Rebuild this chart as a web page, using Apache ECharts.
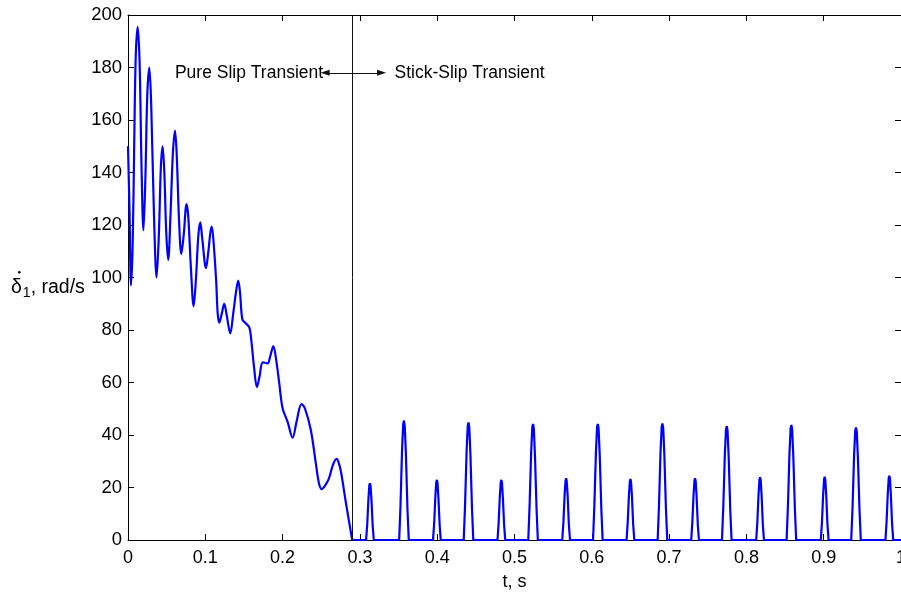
<!DOCTYPE html>
<html>
<head>
<meta charset="utf-8">
<title>Stick-slip transient</title>
<script src="https://cdn.jsdelivr.net/npm/echarts@6/dist/echarts.min.js"></script>
<style>
  html, body { margin: 0; padding: 0; background: #fff; }
  #main { width: 901px; height: 595px; }
</style>
</head>
<body>
<div id="main"></div>
<script>
// delta_1 dot (rad/s) against t (s)
var pureSlip = [
  [0, 150], [0.002, 125], [0.0039, 97], [0.006, 112], [0.008, 150], [0.010, 184], [0.0125, 195.5],
  [0.015, 182], [0.0175, 142], [0.020, 118], [0.0225, 138], [0.025, 170], [0.0276, 180],
  [0.030, 166], [0.0335, 125], [0.037, 100], [0.040, 117], [0.0425, 142], [0.0448, 150],
  [0.047, 140], [0.0495, 117], [0.052, 106.7], [0.055, 124], [0.058, 147], [0.0608, 156],
  [0.063, 147], [0.066, 122], [0.069, 109], [0.072, 116], [0.0758, 128], [0.078, 123],
  [0.0815, 103], [0.0849, 89], [0.088, 100], [0.091, 116], [0.0935, 121], [0.096, 115],
  [0.1009, 103.6], [0.104, 110], [0.108, 119.4], [0.110, 116], [0.114, 99], [0.116, 86.4],
  [0.118, 82.8], [0.1215, 86.5], [0.1245, 90], [0.1275, 86], [0.1323, 78.7], [0.136, 86],
  [0.1395, 94], [0.1426, 98.8], [0.145, 94], [0.148, 84], [0.1526, 82.5], [0.1569, 81],
  [0.159, 77.5], [0.163, 66], [0.1668, 58.2], [0.170, 62], [0.1745, 67.7], [0.1805, 67.3],
  [0.184, 70], [0.188, 73.9], [0.1915, 69], [0.1957, 59.7], [0.2, 50.2], [0.2065, 45],
  [0.213, 39], [0.218, 45], [0.2245, 51.8], [0.229, 50], [0.2365, 41.9], [0.243, 29.2],
  [0.247, 21.6], [0.2504, 19.4], [0.2555, 21], [0.26, 23.5], [0.265, 28.5], [0.2698, 30.9],
  [0.2725, 29.5], [0.2755, 26], [0.282, 14], [0.29, 0]
];

var stickSlip = [
  [0.29, 0],
  [0.308, 0], [0.3095, 6], [0.311, 15.5], [0.3122, 20.8], [0.313, 21.6], [0.3138, 20.6], [0.315, 15], [0.3165, 5.5], [0.318, 0],
  [0.3508, 0], [0.3525, 13], [0.3545, 34], [0.356, 44], [0.357, 45.5], [0.358, 43.5], [0.3595, 33], [0.3615, 12], [0.3632, 0],
  [0.3946, 0], [0.3961, 6.5], [0.3976, 16.5], [0.3988, 22], [0.3996, 22.9], [0.4004, 21.8], [0.4016, 16], [0.4031, 6], [0.4046, 0],
  [0.4343, 0], [0.436, 13], [0.438, 33.5], [0.4395, 43.5], [0.4405, 44.8], [0.4415, 43], [0.443, 32.5], [0.445, 12], [0.4467, 0],
  [0.478, 0], [0.4795, 6.5], [0.481, 16.5], [0.4822, 22], [0.483, 22.9], [0.4838, 21.8], [0.485, 16], [0.4865, 6], [0.488, 0],
  [0.5178, 0], [0.5195, 13], [0.5215, 33], [0.523, 43], [0.524, 44.2], [0.525, 42.5], [0.5265, 32], [0.5285, 12], [0.5302, 0],
  [0.5618, 0], [0.5633, 7], [0.5648, 17], [0.566, 22.6], [0.5668, 23.5], [0.5676, 22.4], [0.5688, 16.5], [0.5703, 6], [0.5718, 0],
  [0.6016, 0], [0.6033, 13], [0.6053, 33], [0.6068, 43], [0.6078, 44.2], [0.6088, 42.5], [0.6103, 32], [0.6123, 12], [0.614, 0],
  [0.645, 0], [0.6465, 7], [0.648, 16.8], [0.6492, 22.3], [0.65, 23.2], [0.6508, 22.1], [0.652, 16.3], [0.6535, 6], [0.655, 0],
  [0.6852, 0], [0.6869, 13], [0.6889, 33.5], [0.6904, 43.2], [0.6914, 44.4], [0.6924, 42.7], [0.6939, 32], [0.6959, 12], [0.6976, 0],
  [0.7286, 0], [0.7301, 7], [0.7316, 17], [0.7328, 22.6], [0.7336, 23.5], [0.7344, 22.4], [0.7356, 16.5], [0.7371, 6], [0.7386, 0],
  [0.7684, 0], [0.7701, 12.5], [0.7721, 32.5], [0.7736, 42.2], [0.7746, 43.4], [0.7756, 41.7], [0.7771, 31.5], [0.7791, 11.5], [0.7808, 0],
  [0.8127, 0], [0.8142, 7], [0.8157, 17.3], [0.8169, 23], [0.8177, 23.9], [0.8185, 22.8], [0.8197, 16.8], [0.8212, 6.2], [0.8227, 0],
  [0.852, 0], [0.8537, 12.7], [0.8557, 32.8], [0.8572, 42.6], [0.8582, 43.8], [0.8592, 42], [0.8607, 31.8], [0.8627, 11.8], [0.8644, 0],
  [0.8963, 0], [0.8978, 7.2], [0.8993, 17.4], [0.9005, 23.2], [0.9013, 24.1], [0.9021, 23], [0.9033, 17], [0.9048, 6.3], [0.9063, 0],
  [0.9356, 0], [0.9373, 12.4], [0.9393, 32.2], [0.9408, 41.7], [0.9418, 42.9], [0.9428, 41.2], [0.9443, 31], [0.9463, 11.5], [0.948, 0],
  [0.9799, 0], [0.9814, 7.3], [0.9829, 17.7], [0.9841, 23.6], [0.9849, 24.5], [0.9857, 23.4], [0.9869, 17.2], [0.9884, 6.4], [0.9899, 0],
  [1, 0]
];

var dividerT = 0.29;            // end of pure slip
var arrowSpan = [0.255, 0.328]; // double arrow across the divider
var arrowY = 178;
var labelLeft = 'Pure Slip Transient';
var labelRight = 'Stick-Slip Transient';

var font = "'Liberation Sans', Arial, sans-serif";
var chart = echarts.init(document.getElementById('main'), null, { renderer: 'canvas' });

function axisBase(extra) {
  return Object.assign({
    type: 'value',
    gridIndex: 0,
    axisLine: { show: true, onZero: false, lineStyle: { color: '#000', width: 1 } },
    axisTick: { show: true, inside: true, length: 6, lineStyle: { color: '#000' } },
    splitLine: { show: false }
  }, extra);
}

var option = {
  animation: false,
  backgroundColor: '#fff',
  grid: { left: 128, top: 15, width: 773, height: 525, containLabel: false, outerBoundsMode: 'none' },
  xAxis: [
    axisBase({
      min: 0, max: 1, interval: 0.1,
      name: 't, s', nameLocation: 'middle', nameGap: 33,
      nameTextStyle: { color: '#000', fontSize: 18, fontFamily: font },
      axisLabel: { color: '#000', fontSize: 18, fontFamily: font, margin: 9 }
    }),
    axisBase({ position: 'top', min: 0, max: 1, interval: 0.1, axisLabel: { show: false } })
  ],
  yAxis: [
    axisBase({
      min: 0, max: 200, interval: 20,
      axisLabel: { color: '#000', fontSize: 18.5, fontFamily: font, margin: 6 }
    }),
    axisBase({ position: 'right', min: 0, max: 200, interval: 20, axisLabel: { show: false } })
  ],
  series: [
    {
      name: 'pure slip',
      type: 'line',
      data: pureSlip,
      showSymbol: false,
      smooth: 0.35,
      lineStyle: { color: '#0000ff', width: 2.2 },
      z: 3
    },
    {
      name: 'stick slip',
      type: 'line',
      data: stickSlip,
      showSymbol: false,
      lineStyle: { color: '#0000ff', width: 2.2 },
      z: 3,
      markLine: {
        silent: true,
        animation: false,
        label: { show: false },
        data: [
          [{ coord: [dividerT, 0], symbol: 'none' }, { coord: [dividerT, 200], symbol: 'none' }],
          [{ coord: [arrowSpan[0], arrowY], symbol: 'triangle' }, { coord: [arrowSpan[1], arrowY], symbol: 'triangle' }]
        ],
        symbolSize: [6, 9],
        lineStyle: { color: '#111', width: 1, type: 'solid' }
      },
      markPoint: {
        silent: true,
        symbol: 'circle',
        symbolSize: 0,
        label: { color: '#000', fontSize: 17.5, fontFamily: font, distance: 2 },
        data: [
          { coord: [arrowSpan[0], arrowY], label: { position: 'left', formatter: labelLeft } },
          { coord: [arrowSpan[1], arrowY], label: { position: 'right', distance: 13, formatter: labelRight } }
        ]
      }
    }
  ],
  graphic: [
    {
      type: 'text',
      left: 11,
      top: 278,
      z: 50,
      style: {
        text: '{d|δ}{s|1}{t|, rad/s}',
        rich: {
          d: { fontSize: 19.5, fontFamily: font, fill: '#000' },
          s: { fontSize: 14, fontFamily: font, fill: '#000', padding: [10, 0, 0, 1] },
          t: { fontSize: 19.5, fontFamily: font, fill: '#000' }
        }
      }
    },
    // dot over the delta
    { type: 'circle', left: 18, top: 271, z: 60, shape: { r: 1.3 }, style: { fill: '#000' } }
  ]
};

option && chart.setOption(option);
</script>
</body>
</html>
